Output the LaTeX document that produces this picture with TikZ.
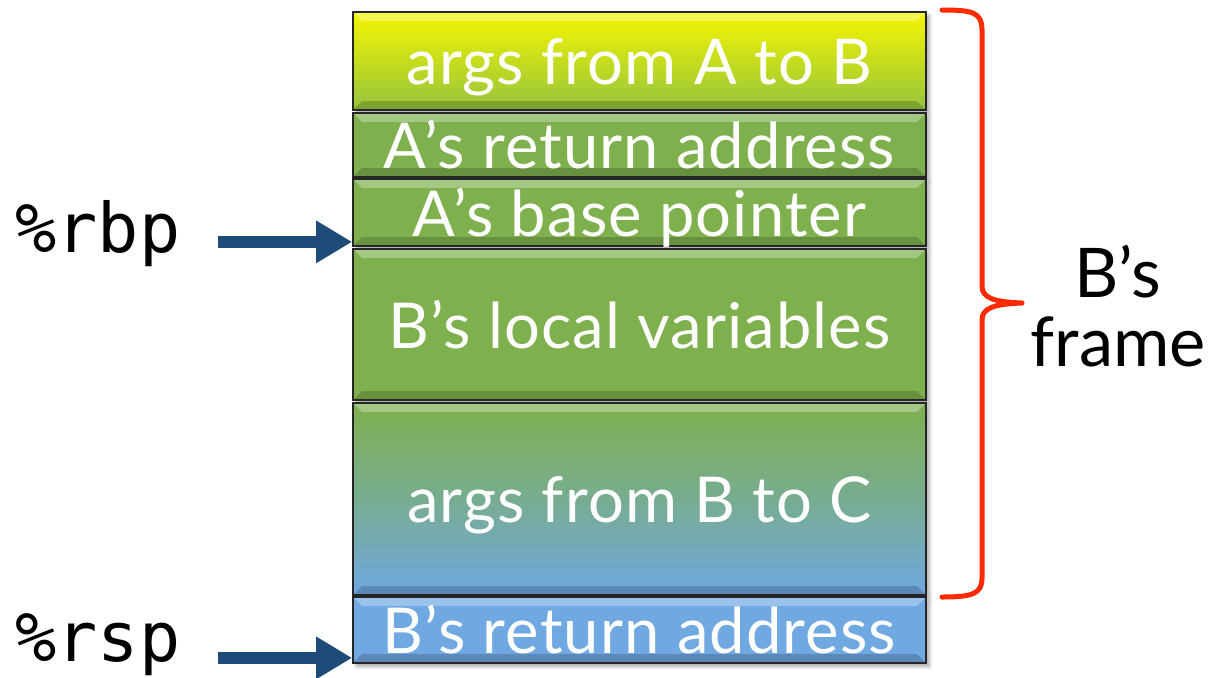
\documentclass[tikz,border=0pt]{standalone}
\usepackage{fontspec}
\setmainfont{Lato}
\newfontfamily\regfont{DejaVu Sans Mono}
\usetikzlibrary{arrows.meta,shadows.blur}

\definecolor{slotgreen}{RGB}{126,176,78}
\definecolor{slotyellow}{RGB}{245,245,0}
\definecolor{slotlime}{RGB}{150,196,62}
\definecolor{slotblue}{RGB}{112,168,226}
\definecolor{ptrblue}{RGB}{31,75,120}
\definecolor{bracered}{RGB}{255,42,0}

\tikzset{
  bevel/.style={path picture={
    \fill[white,opacity=.3] (path picture bounding box.north west) -- (path picture bounding box.north east)
      -- ([xshift=-5pt,yshift=-5pt]path picture bounding box.north east) -- ([xshift=5pt,yshift=-5pt]path picture bounding box.north west) -- cycle;
    \fill[black,opacity=.18] (path picture bounding box.south west) -- (path picture bounding box.south east)
      -- ([xshift=-5pt,yshift=5pt]path picture bounding box.south east) -- ([xshift=5pt,yshift=5pt]path picture bounding box.south west) -- cycle;
  }},
  slot/.style={draw=black!85, line width=1pt, minimum width=11.46cm, inner sep=0pt, text=white,
    font=\fontsize{36}{38}\selectfont\addfontfeature{LetterSpace=1.8}, text height=27pt, text depth=0pt, bevel,
    blur shadow={shadow xshift=2pt, shadow yshift=-2pt, shadow opacity=35, shadow blur steps=6}},
  reg/.style={inner sep=0pt, font=\regfont\fontsize{39}{41}\selectfont},
  ptr/.style={ptrblue, line width=0.24cm, -{Triangle[length=0.72cm,width=0.8cm]}, shorten <=0.74cm},
  brace/.style={bracered, line width=0.1cm, line cap=round, line join=round}
}

\begin{document}
\begin{tikzpicture}[x=0.02cm, y=-0.02cm]
  \useasboundingbox (0,0) rectangle (1222,677);
  % stack slots
  \node[slot, top color=slotyellow, bottom color=slotlime, minimum height=1.96cm] (argsab) at (639.5,61) {args from A to B};
  \node[slot, fill=slotgreen, minimum height=1.28cm] (aret) at (639.5,145) {A’s return address};
  \node[slot, fill=slotgreen, minimum height=1.34cm] (abase) at (639.5,212.5) {A’s base pointer};
  \node[slot, fill=slotgreen, minimum height=3.02cm] (blocal) at (639.5,324.5) {B’s local variables};
  \node[slot, top color=slotgreen, bottom color=slotblue, middle color=slotgreen!55!slotblue, minimum height=3.84cm] (argsbc) at (639.5,499) {args from B to C};
  \node[slot, fill=slotblue, minimum height=1.32cm] (bret) at (639.5,630) {B’s return address};
  % registers
  \node[reg, anchor=base] (rbp) at (98,252) {\%rbp};
  \node[reg, anchor=base] (rsp) at (98,661) {\%rsp};
  \coordinate (rbptip) at ([yshift=0.1cm]abase.south west);
  \coordinate (rsptip) at ([yshift=0.12cm]bret.south west);
  \draw[ptr] (rbp.east |- rbptip) -- (rbptip);
  \draw[ptr] (rsp.east |- rsptip) -- (rsptip);
  % frame brace
  \draw[brace] (942,10) .. controls (972,10) and (982,12) .. (982,30) -- (982,286)
    .. controls (982,298) and (994,302) .. (1022,303)
    .. controls (994,304) and (982,308) .. (982,320) -- (982,578)
    .. controls (982,594) and (972,597) .. (942,597);
  \node[align=center, font=\fontsize{39}{39}\selectfont, anchor=base] (frame) at (1118,366) {B’s\\frame};
\end{tikzpicture}
\end{document}
